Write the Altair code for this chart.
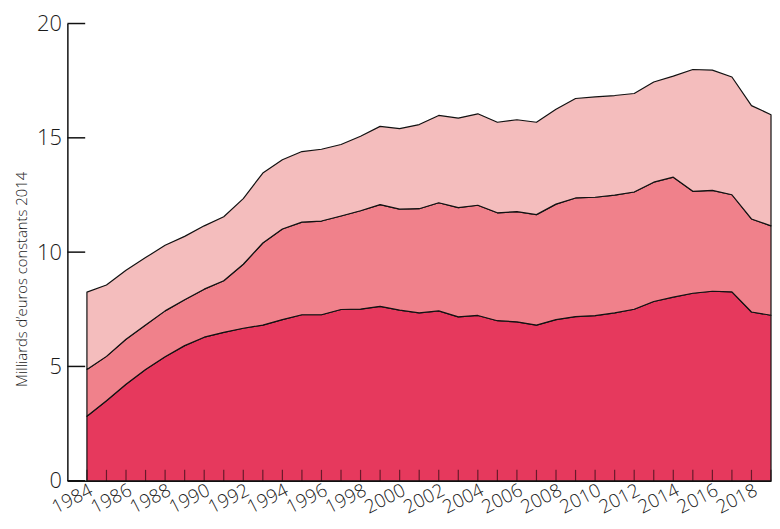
import altair as alt
import pandas as pd

years = list(range(1984, 2020))

# cumulative boundaries (Milliards d'euros constants 2014)
bottom_top = [2.82, 3.50, 4.22, 4.87, 5.42, 5.91, 6.28, 6.49, 6.67, 6.81,
              7.05, 7.26, 7.26, 7.49, 7.51, 7.63, 7.46, 7.34, 7.43, 7.17,
              7.23, 7.00, 6.95, 6.81, 7.05, 7.18, 7.22, 7.34, 7.50, 7.84,
              8.03, 8.20, 8.29, 8.26, 7.38, 7.24]
middle_top = [4.87, 5.44, 6.19, 6.81, 7.43, 7.92, 8.38, 8.75, 9.47, 10.40,
              11.01, 11.31, 11.36, 11.58, 11.81, 12.08, 11.88, 11.90, 12.16, 11.95,
              12.05, 11.72, 11.77, 11.64, 12.10, 12.37, 12.40, 12.49, 12.63, 13.06,
              13.28, 12.66, 12.70, 12.51, 11.45, 11.15]
total_top = [8.25, 8.56, 9.21, 9.76, 10.30, 10.69, 11.15, 11.55, 12.34, 13.46,
             14.04, 14.40, 14.50, 14.71, 15.07, 15.50, 15.40, 15.58, 15.98, 15.86,
             16.05, 15.68, 15.79, 15.68, 16.25, 16.72, 16.79, 16.85, 16.94, 17.44,
             17.70, 17.99, 17.96, 17.66, 16.41, 16.01]

y_ticks = [0, 5, 10, 15, 20]
x_labels = list(range(1984, 2019, 2))

colors = ["#E6395D", "#F0818B", "#F4BDBD"]

zeros = [0.0] * len(years)
df = pd.DataFrame({
    "year": years,
    "zero": zeros,
    "b": bottom_top,
    "m": middle_top,
    "t": total_top,
})

xscale = alt.Scale(domain=[1983, 2019], nice=False, zero=False)
yscale = alt.Scale(domain=[0, 20], nice=False)

x_axis = alt.Axis(values=x_labels, ticks=False, grid=False, format="d",
                  labelAngle=-27, labelAlign="right", labelBaseline="top",
                  labelOverlap=False, labelBound=False, labelFlush=False,
                  labelFontSize=19, labelFontWeight=300, labelPadding=0,
                  labelColor="#1a1a1a",
                  domainColor="#111111", domainWidth=1.5, title="")
y_axis = alt.Axis(values=y_ticks, ticks=False, grid=False,
                  labelFontSize=22, labelFontWeight=300, labelPadding=6,
                  labelColor="#1a1a1a",
                  domainColor="#111111", domainWidth=1.5,
                  title="Milliards d’euros constants 2014",
                  titleFontSize=15, titleFontWeight=300, titleColor="#1a1a1a",
                  titlePadding=7, titleY=258)

X = alt.X("year:Q", scale=xscale, axis=x_axis)

base = alt.Chart(df)

def area(ycol, y2col, color):
    return base.mark_area(color=color, stroke="#111111", strokeWidth=1.2,
                          strokeJoin="round", opacity=1).encode(
        x=X,
        y=alt.Y(f"{ycol}:Q", scale=yscale, axis=y_axis),
        y2=alt.Y2(f"{y2col}:Q"),
    )

a1 = area("b", "zero", colors[0])
a2 = area("m", "b", colors[1])
a3 = area("t", "m", colors[2])

xt = alt.Chart(pd.DataFrame({"year": years})).mark_rule(
    color="#000000", opacity=0.55, strokeWidth=1.2).encode(
    x=X,
    y=alt.value(451), y2=alt.value(462))

yt = alt.Chart(pd.DataFrame({"v": y_ticks})).mark_rule(
    color="#111111", strokeWidth=1.5).encode(
    y=alt.Y("v:Q", scale=yscale, axis=y_axis),
    x=alt.value(0), x2=alt.value(18))

chart = alt.layer(a1, a2, a3, xt, yt).properties(
    width=711, height=462,
    autosize=alt.AutoSizeParams(type="none"),
    padding={"left": 60, "top": 13, "right": 1, "bottom": 38},
).configure(font="Open Sans", view=alt.ViewConfig(stroke="transparent"))

chart.save("out.html", embed_options={"renderer": "svg", "actions": False})
